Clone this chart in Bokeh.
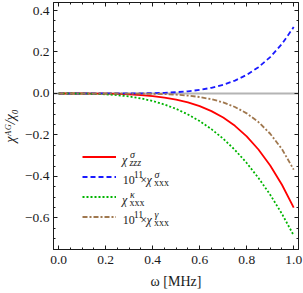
from bokeh.plotting import figure
from bokeh.models import (FixedTicker, CustomJSTickFormatter, LinearAxis, Span,
                          Label, Legend, LegendItem, Range1d)
from bokeh.embed import file_html
from bokeh.resources import INLINE

# ---------------- data ----------------
omega = [0.00, 0.05, 0.10, 0.15, 0.20, 0.25, 0.30, 0.35, 0.40, 0.45, 0.50,
         0.55, 0.60, 0.65, 0.70, 0.75, 0.80, 0.85, 0.90, 0.95, 1.00]
chi_zzz_sigma = [0.0, 0.0, -0.0001, -0.0003, -0.001, -0.002, -0.0045, -0.008,
                 -0.013, -0.020, -0.030, -0.043, -0.061, -0.085, -0.116,
                 -0.156, -0.207, -0.270, -0.347, -0.440, -0.550]
chi_xxx_sigma_e11 = [0.0, 0.0, 0.0, 0.0, 0.0001, 0.0001, 0.0003, 0.0008,
                     0.0017, 0.0034, 0.0062, 0.0106, 0.0174, 0.0275, 0.0419,
                     0.062, 0.0897, 0.127, 0.1755, 0.239, 0.320]
chi_xxx_kappa = [0.0, 0.0, -0.0004, -0.0016, -0.0040, -0.0081, -0.0145,
                 -0.0238, -0.0364, -0.0531, -0.0744, -0.101, -0.133, -0.172,
                 -0.218, -0.272, -0.335, -0.407, -0.488, -0.580, -0.684]
chi_xxx_gamma_e11 = [0.0, 0.0, 0.0, 0.0, 0.0, -0.0001, -0.0003, -0.0007,
                     -0.0015, -0.003, -0.0057, -0.0101, -0.017, -0.0275,
                     -0.0429, -0.065, -0.0957, -0.1376, -0.194, -0.268, -0.367]

x_major = [0.0, 0.2, 0.4, 0.6, 0.8, 1.0]
x_minor = [0.05, 0.1, 0.15, 0.25, 0.3, 0.35, 0.45, 0.5, 0.55, 0.65, 0.7, 0.75,
           0.85, 0.9, 0.95]
y_major = [-0.6, -0.4, -0.2, 0.0, 0.2, 0.4]
y_minor = [-0.75, -0.7, -0.65, -0.55, -0.5, -0.45, -0.35, -0.3, -0.25, -0.15,
           -0.1, -0.05, 0.05, 0.1, 0.15, 0.25, 0.3, 0.35]

x_title = "ω [MHz]"
y_title = "χᴬᴳ/χ₀"

# ---------------- layout ----------------
W, H = 303, 293
ML, MR, MT, MB = 52, 5, 2, 44
X0, X1 = -0.022, 1.0204
Y0, Y1 = -0.752, 0.4386
FW = W - ML - MR
FH = H - MT - MB

def sx2x(sx):
    return X0 + (sx - ML) / FW * (X1 - X0)

def sy2y(sy):
    return Y1 - (sy - MT) / FH * (Y1 - Y0)

FONT = "Liberation Serif"
INK = "#1a1a1a"

p = figure(width=W, height=H, x_range=Range1d(X0, X1), y_range=Range1d(Y0, Y1),
           output_backend="svg", toolbar_location=None,
           min_border_left=ML, min_border_right=MR, min_border_top=MT,
           min_border_bottom=MB)
p.xgrid.visible = False
p.ygrid.visible = False
p.outline_line_color = INK
p.outline_line_width = 1
p.background_fill_color = "white"
p.border_fill_color = "white"

minus_fmt = "return tick.toFixed(1).replace('-', '\\u2212');"

def style_axis(ax, major, minor, labels):
    ax.ticker = FixedTicker(ticks=major, minor_ticks=minor)
    ax.major_tick_in = 4
    ax.major_tick_out = 0
    ax.minor_tick_in = 2
    ax.minor_tick_out = 0
    ax.axis_line_color = INK
    ax.major_tick_line_color = INK
    ax.minor_tick_line_color = INK
    if labels:
        ax.formatter = CustomJSTickFormatter(code=minus_fmt)
        ax.major_label_text_font = FONT
        ax.major_label_text_font_size = "13.5px"
        ax.major_label_text_color = INK
        ax.axis_label_text_font = FONT
        ax.axis_label_text_font_size = "14px"
        ax.axis_label_text_color = INK
    else:
        ax.formatter = CustomJSTickFormatter(code="return '';")
        ax.major_label_text_font_size = "0px"
        ax.major_label_standoff = 0

xa = p.xaxis[0]
style_axis(xa, x_major, x_minor, True)
xa.major_label_standoff = 6
xa.axis_label = x_title
xa.axis_label_text_font_style = "normal"
xa.axis_label_standoff = 7

ya = p.yaxis[0]
style_axis(ya, y_major, y_minor, True)
ya.major_label_standoff = 4
ya.axis_label = y_title
ya.axis_label_text_font_style = "italic"
ya.axis_label_standoff = 4

top_ax = LinearAxis()
style_axis(top_ax, x_major, x_minor, False)
p.add_layout(top_ax, "above")
right_ax = LinearAxis()
style_axis(right_ax, y_major, y_minor, False)
p.add_layout(right_ax, "right")

p.add_layout(Span(location=0, dimension="width", line_color="#b4b4b4",
                  line_width=2, level="underlay"))

r1 = p.line(omega, chi_zzz_sigma, line_color="#ff0000", line_width=1.8)
r2 = p.line(omega, chi_xxx_sigma_e11, line_color="#1a1aff", line_width=1.8,
            line_dash="5 3")
r3 = p.line(omega, chi_xxx_kappa, line_color="#00b400", line_width=1.8,
            line_dash="2 2")
r4 = p.line(omega, chi_xxx_gamma_e11, line_color="#a0784f", line_width=1.8,
            line_dash="5 2 2 2")

legend = Legend(items=[LegendItem(label=" ", renderers=[r]) for r in (r1, r2, r3, r4)],
                location=(29, 24), glyph_width=34, glyph_height=17,
                label_height=17, spacing=3, padding=0, margin=0,
                label_standoff=0, label_text_font_size="1px",
                border_line_color=None, background_fill_alpha=0)
p.add_layout(legend)

def txt(s, sx, sy, size, italic=False):
    p.add_layout(Label(x=sx2x(sx), y=sy2y(sy), text=s, text_font=FONT,
                       text_font_size=f"{size}px",
                       text_font_style="italic" if italic else "normal",
                       text_color=INK, text_align="left",
                       text_baseline="alphabetic"))

# legend texts
rows = [156.5, 176.5, 196.5, 216.5]
MAIN, SCR = 12, 10
for i, (sup, sub, sub_it, big) in enumerate([("σ", "zzz", True, False),
                                              ("σ", "xxx", False, True),
                                              ("κ", "xxx", False, False),
                                              ("γ", "xxx", False, True)]):
    L = rows[i]
    if big:
        txt("10", 121.5, L + 2.5, MAIN)
        txt("11", 132.5, L - 2.5, SCR)
        txt("×", 139.0, L + 2.5, MAIN)
        cx = 145.5
    else:
        cx = 120.7
    txt("χ", cx, L + 2.5, MAIN, italic=True)
    txt(sup, cx + 8.0, L - 2.5, SCR, italic=True)
    txt(sub, cx + 7.5, L + 5.5, SCR, italic=sub_it)

open("out.html", "w", encoding="utf-8").write(file_html(p, INLINE))
